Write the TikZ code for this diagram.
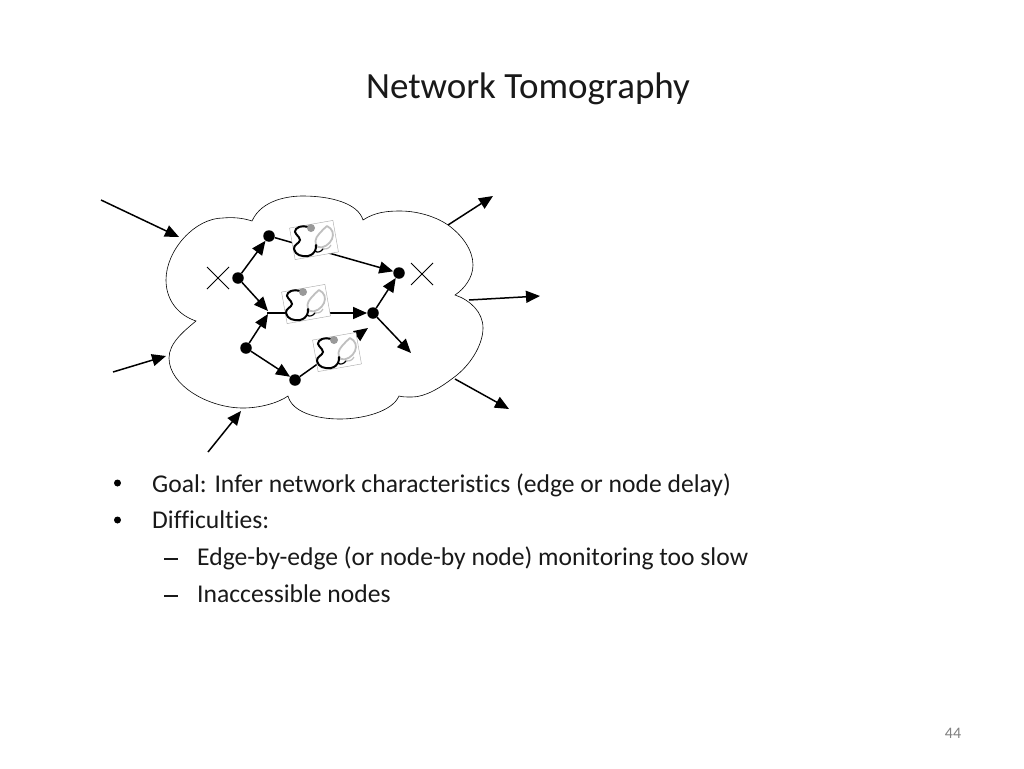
\documentclass[tikz,border=0pt]{standalone}
\usepackage{fontspec}
\setmainfont[Ligatures=NoCommon]{Carlito}
\usetikzlibrary{arrows.meta}
\tikzset{
  x=1pt,y=-1pt,
  dotnode/.style={circle,fill=black,inner sep=0pt,minimum size=11.5pt},
  link/.style={line width=1.5pt,-{Triangle[length=14pt,width=12pt]}},
  cloudline/.style={line width=0.6pt,draw=black,fill=white},
  crossline/.style={line width=0.9pt},
  scopebox/.style={draw=black!35,line width=0.4pt,fill=white,minimum width=44pt,minimum height=32pt,inner sep=0pt,rotate=10},
  txt/.style={anchor=base west,inner sep=0pt,font=\fontsize{25.6}{30}\selectfont,text=black!90},
  bulletmark/.style={circle,fill=black,inner sep=0pt,minimum size=7pt},
  dashmark/.style={inner sep=0pt,minimum width=14pt,minimum height=1.2pt,fill=black!90},
  pics/stetho/.style={code={
    \draw[black!25,line width=1.8pt,line cap=round] (13,-14) .. controls (19,-11) and (20,-6) .. (18,-1) .. controls (16,4) and (9,9) .. (4,7) .. controls (0,4) and (1,-2) .. (5,-6) .. controls (8,-9) and (10,-12) .. (13,-14);
    \draw[black!25,line width=1.2pt] (8,8) .. controls (11,10) and (15,9) .. (17,5);
    \draw[black,line width=2pt,line cap=round] (-3,-12) .. controls (-8,-14) and (-14,-15) .. (-18,-11) .. controls (-22,-7) and (-14,-4) .. (-14,0) .. controls (-14,3) and (-21,5) .. (-20,9) .. controls (-19,15) and (-12,17) .. (-6,16) .. controls (-2,15) and (0,13) .. (1,11) .. controls (2,9) and (2,7) .. (2,5);
    \draw[black,line width=1.2pt] (1,11) .. controls (3,13) and (7,12) .. (9,9);
    \fill[black!40] (-3,-12) circle (4pt);
  }}
}
\begin{document}
\begin{tikzpicture}
\useasboundingbox (0,0) rectangle (1024,768);
\fill[white] (0,0) rectangle (1024,768);
\node[anchor=base,inner sep=0pt,font=\fontsize{37}{44}\selectfont,text=black!90] (title) at (528,98) {Network Tomography};

% outer arrows
\coordinate (i1s) at (101,200); \coordinate (i1e) at (179,237);
\coordinate (i2s) at (113,372); \coordinate (i2e) at (166,356);
\coordinate (i3s) at (208,452); \coordinate (i3e) at (241,411);
\coordinate (o1s) at (448,225); \coordinate (o1e) at (493,196);
\coordinate (o2s) at (469,300); \coordinate (o2e) at (540,296);
\coordinate (o3s) at (455,379); \coordinate (o3e) at (509,409);
\draw[link] (i1s) -- (i1e);
\draw[link] (i2s) -- (i2e);
\draw[link] (i3s) -- (i3e);
\draw[link] (o1s) -- (o1e);
\draw[link] (o2s) -- (o2e);
\draw[link] (o3s) -- (o3e);

% cloud
\draw[cloudline] (252,221)
 .. controls (262,199) and (290,196) .. (303,196)
 .. controls (330,196) and (358,203) .. (363,220)
 .. controls (375,212) and (388,211) .. (400,211)
 .. controls (420,211) and (438,218) .. (448,225)
 .. controls (462,235) and (473,250) .. (473,265)
 .. controls (473,278) and (464,289) .. (455,295)
 .. controls (470,300) and (483,312) .. (483,328)
 .. controls (483,345) and (470,366) .. (453,378)
 .. controls (440,388) and (425,397) .. (412,397)
 .. controls (406,397) and (402,397) .. (399,396)
 .. controls (392,412) and (362,419) .. (340,419)
 .. controls (316,419) and (292,412) .. (288,396)
 .. controls (278,403) and (260,408) .. (243,408)
 .. controls (208,408) and (169,385) .. (169,358)
 .. controls (169,343) and (184,331) .. (196,321)
 .. controls (178,315) and (166,300) .. (166,280)
 .. controls (166,250) and (195,218) .. (223,218)
 .. controls (233,217) and (243,218) .. (252,221) -- cycle;

% crosses
\draw[crossline] (207,267) -- (229,289) (207,289) -- (229,267);
\draw[crossline] (411,263) -- (433,285) (411,285) -- (433,263);

% network nodes
\node[dotnode] (a) at (238,278) {};
\node[dotnode] (b) at (269,236) {};
\node[dotnode] (c) at (399,273) {};
\node[dotnode] (d) at (373,313) {};
\node[dotnode] (e) at (246,348) {};
\node[dotnode] (f) at (295,380) {};
\coordinate (g) at (268,311);
\coordinate (h) at (268,314);
\coordinate (j) at (368,328);
\coordinate (k) at (411,353);
\coordinate (m) at (267,313);

\draw[link] (a) -- (b);
\draw[link] (a) -- (g);
\draw[link] (e) -- (h);
\draw[link] (e) -- (f);
\draw[link] (d) -- (c);
\draw[link] (d) -- (k);
\draw[link] (b) -- (c);
\draw[link] (m) -- (d);
\draw[link] (f) -- (j);

% stethoscopes
\node[scopebox] (s1) at (314,240) {};
\node[scopebox] (s2) at (306,304) {};
\node[scopebox] (s3) at (337,352) {};
\pic at (s1) {stetho};
\pic at (s2) {stetho};
\pic at (s3) {stetho};

% text
\node[bulletmark] (b1) at (117.5,483) {};
\node[bulletmark] (b2) at (117.5,520) {};
\node[txt] (t1) at (152,492) {Goal: Infer network characteristics (edge or node delay)};
\node[txt] (t2) at (152,528.5) {Difficulties:};
\node[dashmark] (b3) at (171,559) {};
\node[dashmark] (b4) at (171,596) {};
\node[txt] (t3) at (197,565) {Edge-by-edge (or node-by node) monitoring too slow};
\node[txt] (t4) at (197,602) {Inaccessible nodes};
\node[inner sep=0pt,font=\fontsize{16}{19}\selectfont,text=black!50] (pg) at (953,733) {44};
\end{tikzpicture}
\end{document}
